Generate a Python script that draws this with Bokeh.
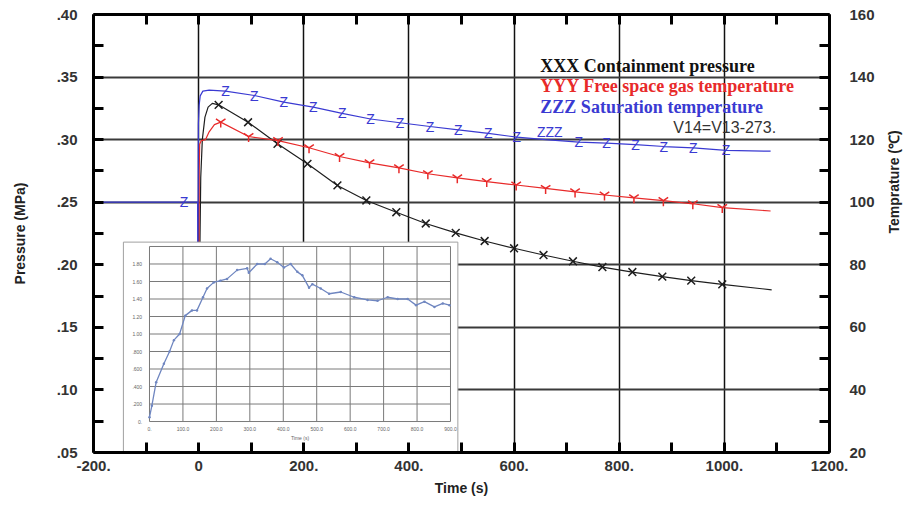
import math
from bokeh.plotting import figure
from bokeh.models import Range1d, LinearAxis, FixedTicker, Label
from bokeh.core.properties import value
from bokeh.embed import file_html
from bokeh.resources import INLINE

# ---------------- data ----------------
# Containment pressure (MPa)
press_t = [0, 2, 4, 7, 12, 18, 26, 38, 94, 150, 207, 264, 319, 376, 432, 489, 544, 600,
           656, 712, 768, 825, 882, 937, 996, 1090]
press_v = [0.10, 0.20, 0.27, 0.300, 0.318, 0.326, 0.329, 0.3278, 0.3139, 0.2967, 0.2807,
           0.2634, 0.2514, 0.2420, 0.2330, 0.2255, 0.2190, 0.2132, 0.2078, 0.2028, 0.1982,
           0.1942, 0.1905, 0.1873, 0.1843, 0.1800]
press_mark_t = [38, 94, 150, 207, 264, 319, 376, 432, 489, 544, 600, 656, 712, 768, 825,
                882, 937, 996]
press_mark_v = [0.3278, 0.3139, 0.2967, 0.2807, 0.2634, 0.2514, 0.2420, 0.2330, 0.2255,
                0.2190, 0.2132, 0.2078, 0.2028, 0.1982, 0.1942, 0.1905, 0.1873, 0.1843]

# Free space gas temperature (C)
gas_t = [0, 1, 2, 5, 13, 20, 30, 42, 95, 151, 210, 268, 325, 381, 436, 492, 548, 604, 660,
         716, 772, 828, 884, 940, 996, 1088]
gas_v = [45, 110, 118.5, 119.7, 120.0, 122.5, 124.8, 125.6, 121.0, 119.7, 117.4, 114.6,
         112.6, 111.0, 109.1, 107.8, 106.6, 105.5, 104.4, 103.3, 102.3, 101.4, 100.5, 99.5,
         98.3, 97.2]
gas_mark_t = [42, 95, 151, 210, 268, 325, 381, 436, 492, 548, 604, 660, 716, 772, 828, 884,
              940, 996]
gas_mark_v = [125.6, 121.0, 119.7, 117.4, 114.6, 112.6, 111.0, 109.1, 107.8, 106.6, 105.5,
              104.4, 103.3, 102.3, 101.4, 100.5, 99.5, 98.3]

# Saturation temperature (C)
sat_t = [-200, -28, -2, -1.5, -0.5, 1, 3, 8, 20, 51, 106, 162, 218, 273, 327, 383, 440, 494,
         551, 605, 660, 723, 776, 831, 885, 941, 1003, 1088]
sat_v = [100, 100, 100, 70, 125, 131, 134, 135.5, 135.8, 135.5, 134.1, 132.0, 130.4, 128.4,
         126.6, 125.4, 124.2, 123.1, 122.0, 120.8, 120.0, 119.2, 118.9, 118.4, 117.8, 117.4,
         116.6, 116.3]
sat_mark_t = [-28, 51, 106, 162, 218, 273, 327, 383, 440, 494, 551, 605, 723, 776, 831, 885,
              941, 1003]
sat_mark_v = [100, 135.5, 134.1, 132.0, 130.4, 128.4, 126.6, 125.4, 124.2, 123.1, 122.0,
              120.8, 119.2, 118.9, 118.4, 117.8, 117.4, 116.6]

# inset chart (measured record)
inset_t = [0, 7, 20, 43, 60, 73, 90, 107, 127, 142, 160, 172, 192, 212, 232, 262, 292, 297,
           322, 345, 362, 382, 402, 422, 442, 457, 477, 487, 512, 537, 572, 612, 652, 682,
           712, 742, 772, 797, 822, 852, 877, 897]
inset_v = [0.05, 0.18, 0.45, 0.66, 0.80, 0.93, 1.00, 1.21, 1.27, 1.27, 1.42, 1.52, 1.59,
           1.61, 1.63, 1.73, 1.75, 1.70, 1.80, 1.80, 1.86, 1.82, 1.76, 1.80, 1.71, 1.67,
           1.53, 1.57, 1.52, 1.46, 1.48, 1.42, 1.39, 1.38, 1.42, 1.40, 1.40, 1.33, 1.37,
           1.31, 1.35, 1.33]
inset_xticks = [0, 100, 200, 300, 400, 500, 600, 700, 800, 900]
inset_xlabels = ["0.", "100.0", "200.0", "300.0", "400.0", "500.0", "600.0", "700.0",
                 "800.0", "900.0"]
inset_yticks = [0, 0.2, 0.4, 0.6, 0.8, 1.0, 1.2, 1.4, 1.6, 1.8, 2.0]
inset_label_ticks = [0, 0.2, 0.4, 0.6, 0.8, 1.0, 1.2, 1.4, 1.6, 1.8]
inset_ylabels = ["0.", ".200", ".400", ".600", ".800", "1.00", "1.20", "1.40", "1.60",
                 "1.80"]

# ticks
x_major = [-200, 0, 200, 400, 600, 800, 1000, 1200]
x_labels = ["-200.", "0", "200.", "400.", "600.", "800.", "1000.", "1200."]
x_minor = [-100, 100, 300, 500, 700, 900, 1100]
x_grid = [0, 200, 400, 600, 800, 1000]
p_major = [0.05, 0.10, 0.15, 0.20, 0.25, 0.30, 0.35, 0.40]
p_labels = [".05", ".10", ".15", ".20", ".25", ".30", ".35", ".40"]
p_minor = [0.075, 0.125, 0.175, 0.225, 0.275, 0.325, 0.375]
p_grid = [0.10, 0.15, 0.20, 0.25, 0.30, 0.35]
t_major = [20, 40, 60, 80, 100, 120, 140, 160]
t_minor = [30, 50, 70, 90, 110, 130, 150]

BLACK = "#1e1e1e"
RED = "#e82a2a"
BLUE = "#3a3ad2"
FONT = "Liberation Sans"

p = figure(width=914, height=506, output_backend="svg", toolbar_location=None,
           x_range=Range1d(-200, 1200), y_range=Range1d(0.05, 0.40),
           min_border_left=93, min_border_right=85, min_border_top=14,
           min_border_bottom=54, background_fill_color="white",
           border_fill_color="white")
p.outline_line_color = None
p.extra_y_ranges = {"temp": Range1d(20, 160), "iy": Range1d(-0.354, 4.651)}
p.extra_x_ranges = {"ix": Range1d(-167.4, 2033.2)}

def style_axis(ax, major, minor, labels=None):
    ax.ticker = FixedTicker(ticks=major, minor_ticks=minor)
    if labels is not None:
        ax.major_label_overrides = {k: v for k, v in zip(major, labels)}
    ax.axis_line_width = 3
    ax.axis_line_color = "black"
    ax.major_tick_in = 10
    ax.major_tick_out = 0
    ax.minor_tick_in = 10
    ax.minor_tick_out = 0
    ax.major_tick_line_width = 3
    ax.minor_tick_line_width = 3
    ax.major_tick_line_color = "black"
    ax.minor_tick_line_color = "black"
    ax.major_label_text_font = FONT
    ax.major_label_text_font_style = "bold"
    ax.major_label_text_font_size = "15px"
    ax.major_label_text_color = "#333333"
    ax.axis_label_text_font = FONT
    ax.axis_label_text_font_style = "bold"
    ax.axis_label_text_font_size = "14px"
    ax.axis_label_text_color = "#222222"

xb = p.xaxis[0]
style_axis(xb, x_major, x_minor, x_labels)
xb.major_label_standoff = 8
xb.axis_label = "Time (s)"
xb.axis_label_standoff = 6

yl = p.yaxis[0]
style_axis(yl, p_major, p_minor, p_labels)
yl.major_label_standoff = 16
yl.axis_label = "Pressure (MPa)"
yl.axis_label_standoff = 26

yr = LinearAxis(y_range_name="temp")
style_axis(yr, t_major, t_minor)
yr.major_label_standoff = 20
yr.axis_label = "Temprature (\u2103)"
yr.axis_label_standoff = 16
p.add_layout(yr, "right")
try:
    yr.axis_label_orientation = math.pi / 2
except Exception:
    yr.axis_label = None
    p.add_layout(Label(x=1330, y=0.2274, text="Temprature (\u2103)", angle=math.pi / 2,
                       text_font=FONT, text_font_style="bold", text_font_size="14px",
                       text_color="#222222", text_align="center",
                       text_baseline="middle"))

xt = LinearAxis()
style_axis(xt, x_major, x_minor, [""] * len(x_major))
xt.major_label_standoff = 0
p.add_layout(xt, "above")

p.xgrid.ticker = FixedTicker(ticks=x_grid)
p.xgrid.grid_line_color = "#111111"
p.xgrid.grid_line_width = 1.5
p.ygrid.ticker = FixedTicker(ticks=p_grid)
p.ygrid.grid_line_color = "#3a3a3a"
p.ygrid.grid_line_width = 2

# main curves
p.line(press_t, press_v, line_color=BLACK, line_width=1.2)
p.scatter(press_mark_t, press_mark_v, marker="x", size=11, line_color=BLACK, line_width=1.5)

p.line(gas_t, gas_v, y_range_name="temp", line_color=RED, line_width=1.2)
p.scatter(gas_mark_t, gas_mark_v, y_range_name="temp", marker="y", size=11,
          line_color=RED, line_width=1.5)

p.line(sat_t, sat_v, y_range_name="temp", line_color=BLUE, line_width=1.2)
p.text(sat_mark_t, sat_mark_v, text=value("Z"), y_range_name="temp",
       text_font=value(FONT), text_font_size="14px", text_color=BLUE,
       text_align="center", text_baseline="middle")

# inset panel
p.quad(left=[-167.4], right=[922], bottom=[-0.354], top=[2.05],
       x_range_name="ix", y_range_name="iy", fill_color="white", line_color=None)
p.line([-78, -78, 922, 922], [-0.354, 2.05, 2.05, -0.354], x_range_name="ix",
       y_range_name="iy", line_color="#a0a0a0", line_width=1)
p.segment(x0=inset_xticks, y0=0, x1=inset_xticks, y1=2.0, x_range_name="ix",
          y_range_name="iy", line_color="#7a7a7a", line_width=1)
p.segment(x0=0, y0=inset_yticks, x1=900, y1=inset_yticks, x_range_name="ix",
          y_range_name="iy", line_color="#7a7a7a", line_width=1)
p.line(inset_t, inset_v, x_range_name="ix", y_range_name="iy", line_color="#6f86c0",
       line_width=1.3)
p.scatter(inset_t, inset_v, x_range_name="ix", y_range_name="iy", size=2.5,
          fill_color="#6f86c0", line_color=None)
p.text([-22] * len(inset_label_ticks), inset_label_ticks, text=inset_ylabels,
       x_range_name="ix", y_range_name="iy", text_font=value(FONT), text_font_size="5px",
       text_color="#666666", text_align="right", text_baseline="middle")
p.text(inset_xticks, [-0.08] * len(inset_xticks), text=inset_xlabels, x_range_name="ix",
       y_range_name="iy", text_font=value(FONT), text_font_size="5px",
       text_color="#666666", text_align="center", text_baseline="middle")
p.add_layout(Label(x=450, y=-0.19, x_range_name="ix", y_range_name="iy", text="Time (s)",
                   text_font=FONT, text_font_size="5px", text_color="#666666",
                   text_align="center", text_baseline="middle"))

# legend text
legend_items = [("XXX Containment pressure", "#111111", 0.3592),
                ("YYY Free space gas temperature", RED, 0.3425),
                ("ZZZ  Saturation temperature", BLUE, 0.3257)]
for txt, col, yy in legend_items:
    p.add_layout(Label(x=650, y=yy, text=txt, text_font="Liberation Serif",
                       text_font_style="bold", text_font_size="18px", text_color=col,
                       text_baseline="middle"))
p.add_layout(Label(x=903, y=0.3097, text="V14=V13-273.", text_font=FONT,
                   text_font_size="16px", text_color="#333333", text_baseline="middle"))
p.add_layout(Label(x=668, y=0.3059, text="ZZZ", text_font=FONT, text_font_size="14px",
                   text_color=BLUE, text_align="center", text_baseline="middle"))

open("out.html", "w").write(file_html(p, INLINE))
